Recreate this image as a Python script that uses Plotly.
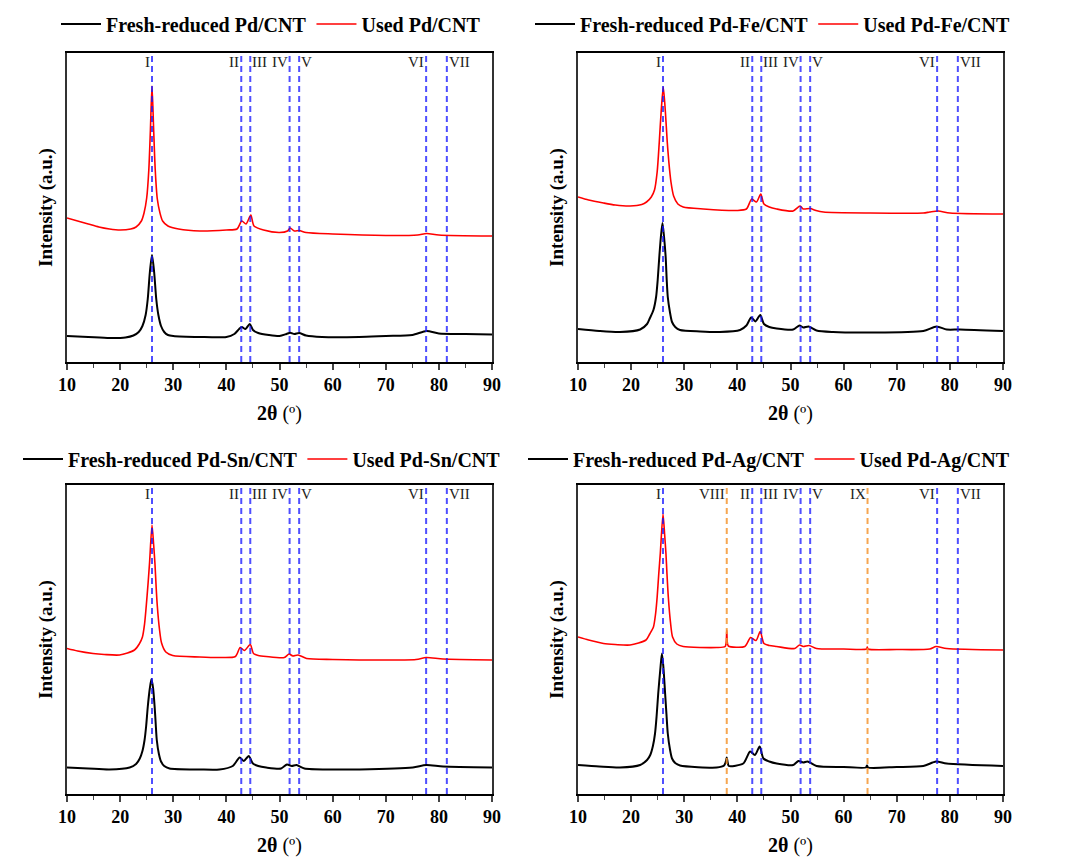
import plotly.graph_objects as go

# ---- data (2theta in degrees, intensity in a.u.) ----
pd_fresh_x = [10, 14, 18, 21, 22.5, 23.5, 24.2, 24.8, 25.2, 25.6, 26.0, 26.4, 26.8, 27.2, 27.7, 28.3, 29, 30,
              35, 40, 41.5, 42.4, 42.9, 43.6, 44.4, 45.0, 46, 48, 50, 51.3, 52, 52.8, 53.7, 55, 58, 65, 70,
              75, 77.7, 80, 85, 90]
pd_fresh_y = [26, 25, 24, 24.5, 26.5, 30, 36, 47, 63, 90, 107, 90, 63, 47, 36, 30, 27, 26,
              25, 25, 28, 33, 35, 33, 38, 32, 29, 27, 26, 28, 29.3, 28, 29, 26.5, 25, 25, 26,
              27, 31, 28.5, 28, 27.5]
pd_used_x = [10, 12, 14, 16, 18, 20, 22, 23, 24, 24.5, 25.0, 25.4, 25.7, 26.0, 26.3, 26.6, 27.0, 27.5, 28,
             29, 31, 35, 40, 42, 42.9, 43.7, 44.6, 45.2, 47, 50, 51.5, 52, 52.8, 53.7, 55, 60, 70, 76,
             77.7, 80, 90]
pd_used_y = [144, 141, 138, 135, 133, 132, 133, 135, 141, 149, 164, 192, 232, 276, 234, 193, 163, 149, 141,
             136, 133, 131, 132, 133, 141, 138, 147, 136, 132, 129.5, 131, 134, 131, 131.5, 129.5, 128, 126.5, 127,
             128.5, 127, 126]

pdfe_fresh_x = [10, 14, 17.9, 21.7, 23, 23.5, 24.2, 24.7, 25.0, 25.3, 25.6, 25.9, 26.2, 26.5, 26.7, 26.9,
                27.3, 27.7, 28.3, 29.2, 33, 36.7, 40.5, 41.7, 42.6, 43.4, 44.3, 45.0, 46, 47.4, 50.5, 51.7,
                52.4, 53.4, 54.9, 58, 65, 75, 77.5, 79.4, 81.9, 90]
pdfe_fresh_y = [33, 31, 30, 32.5, 38, 43.5, 52, 65, 82, 105, 125, 139, 125, 105, 82, 65,
                50, 40, 35, 32, 30.5, 30, 32, 36.5, 44.5, 40.5, 47, 38, 35, 33.5, 32.5, 36.5,
                34.5, 35.5, 31.5, 30, 29.5, 31, 35.5, 32.5, 32.5, 31]
pdfe_used_x = [10, 12, 14.8, 17, 19.8, 22, 22.9, 23.8, 24.4, 24.9, 25.3, 25.65, 26.05, 26.45, 26.8, 27.1, 27.5,
               28.0, 28.8, 29.8, 33.6, 39.9, 41.7, 42.7, 43.6, 44.4, 45.0, 46, 47.4, 50.5, 51.8, 52.4, 53.7,
               54.8, 56.2, 65, 75, 76.2, 77.8, 80, 90]
pdfe_used_y = [165, 162, 159, 157, 156, 157.5, 160, 165, 172, 190, 220, 250, 275, 250, 220, 200, 180,
               166, 158, 155, 153, 151.5, 153, 163, 160, 168, 158, 155, 153, 151, 156, 153, 153.5,
               151.5, 150, 149, 149, 150, 151, 149, 148]

pdsn_fresh_x = [10, 14, 18, 21.8, 23, 23.7, 24.2, 24.6, 24.9, 25.2, 25.6, 25.9, 26.2, 26.5, 26.7, 26.9, 27.3,
                27.7, 28.3, 29.3, 35, 38.7, 41.2, 42.5, 43.3, 44.2, 45.0, 46, 47.5, 50.3, 51.4, 52.3, 53.2,
                54.7, 60, 65.1, 75.1, 77.6, 80.8, 90]
pdsn_fresh_y = [26.5, 25.5, 24.5, 26.5, 30, 35.5, 43, 54, 68, 87, 106, 115, 106, 87, 70, 54, 40,
                32.5, 28, 25.5, 24.5, 24.5, 28, 36.5, 33, 38, 30.5, 28, 26.5, 25.5, 29.5, 28, 29,
                25.5, 24.5, 24.5, 26.5, 29, 27.5, 26.5]
pdsn_used_x = [10, 12, 14.9, 17, 19.9, 22.7, 23.6, 24.2, 24.6, 24.9, 25.25, 25.55, 26.0, 26.3, 26.55, 26.8, 27.0,
               27.4, 27.8, 28.6, 29.9, 35, 38.7, 41.7, 42.6, 43.4, 44.5, 45.1, 46, 47.5, 50.9, 51.8, 52.5,
               53.5, 55.1, 60, 65, 75.7, 77.6, 80.8, 90]
pdsn_used_y = [145.5, 143, 140.5, 139.5, 139, 144, 150, 157, 170, 187, 210, 232, 269, 250, 231, 205, 188,
               165, 151, 142, 138.5, 137, 136.5, 137.5, 146.5, 143.5, 149.5, 140.5, 138.5, 137.5, 136.5, 140, 138,
               139, 135.5, 134.5, 134, 134.5, 136.5, 135, 134]

pdag_fresh_x = [10, 14, 17.9, 21.7, 23, 23.6, 24.1, 24.5, 24.8, 25.1, 25.5, 25.8, 26.1, 26.4, 26.65, 26.9, 27.3,
                27.7, 28.3, 29.2, 36.1, 37.5, 37.9, 38.0, 38.2, 38.4, 41.1, 42.4, 43.3, 44.2, 44.9, 46, 47.4,
                50.5, 51.5, 52.4, 53.2, 54.9, 60, 64.2, 64.4, 64.6, 70, 75, 77.4, 79.4, 90]
pdag_fresh_y = [29, 27.5, 26.5, 29, 34, 39, 48, 60.5, 78, 100.5, 125, 140.5, 125, 100.5, 80, 60.5, 45,
                35.5, 31, 28.5, 26.5, 28.5, 34, 36.5, 31, 28, 30.5, 42.5, 39, 47.5, 35.5, 32.5, 30.5,
                29, 33, 31.5, 32.5, 28, 27, 26.5, 28.5, 26.5, 27, 28, 32.5, 30.5, 28]
pdag_used_x = [10, 12, 14.8, 17, 19.8, 22.8, 23.5, 24.2, 24.6, 24.9, 25.2, 25.5, 26.0, 26.3, 26.55, 26.75, 27.0,
               27.4, 27.8, 28.6, 29.8, 36.1, 37.7, 37.9, 38.0, 38.1, 38.3, 41.4, 42.5, 43.5, 44.3, 45.0, 46,
               47.4, 50.8, 51.7, 52.4, 53.5, 54.9, 60, 64.3, 64.45, 64.6, 70, 76.2, 77.4, 79.4, 90]
pdag_used_y = [157, 154, 150.5, 149.5, 149, 154, 160, 167, 180, 197, 220, 241, 280, 260, 241, 220, 197,
               172, 157, 150, 147.5, 146.5, 147.5, 152, 164, 152, 148, 147.5, 156.5, 153.5, 162.5, 150.5, 148.5,
               147.5, 145.5, 149, 147.5, 148.5, 145.5, 145, 145, 147, 145, 144.5, 145, 147.5, 145.5, 144]

# reference reflections
peak_pos = [26.0, 42.8, 44.5, 51.9, 53.7, 77.6, 81.5]
peak_lab = ["I", "II", "III", "IV", "V", "VI", "VII"]
peak_side = ["left", "left", "right", "left", "right", "left", "right"]
ag_pos = [38.0, 64.5]
ag_lab = ["VIII", "IX"]

samples = ["Pd/CNT", "Pd-Fe/CNT", "Pd-Sn/CNT", "Pd-Ag/CNT"]
fresh = [(pd_fresh_x, pd_fresh_y), (pdfe_fresh_x, pdfe_fresh_y), (pdsn_fresh_x, pdsn_fresh_y), (pdag_fresh_x, pdag_fresh_y)]
used = [(pd_used_x, pd_used_y), (pdfe_used_x, pdfe_used_y), (pdsn_used_x, pdsn_used_y), (pdag_used_x, pdag_used_y)]

W, H = 1067, 861
# plot boxes in pixels: (left, right, top, bottom)
boxes = [(67, 492, 53, 362), (578, 1003, 53, 362), (67, 492, 485, 794), (578, 1003, 485, 794)]
legend_pos = [(56, 24), (530, 24), (18, 459), (523, 459)]

FONT = "Liberation Serif"
BLUE = "rgba(20,20,255,0.75)"
ORANGE = "rgba(245,150,50,0.85)"

fig = go.Figure()
layout = {}
for i in range(4):
    n = "" if i == 0 else str(i + 1)
    leg = "legend" + n
    xa, ya = "x" + n, "y" + n
    l, r, t, b = boxes[i]

    fig.add_trace(go.Scatter(x=fresh[i][0], y=fresh[i][1], mode="lines", name="Fresh-reduced " + samples[i],
                             line=dict(color="black", width=2, shape="spline", smoothing=0.7),
                             xaxis=xa, yaxis=ya, legend=leg))
    fig.add_trace(go.Scatter(x=used[i][0], y=used[i][1], mode="lines", name="Used " + samples[i],
                             line=dict(color="red", width=1.6, shape="spline", smoothing=0.7),
                             xaxis=xa, yaxis=ya, legend=leg))

    layout["xaxis" + n] = dict(
        domain=[l / W, r / W], anchor=ya, range=[10, 90], dtick=10, ticks="outside", ticklen=6, tickwidth=1.5,
        minor=dict(dtick=5, ticks="outside", ticklen=4, tickwidth=1.2), showgrid=False, zeroline=False,
        showline=True, linecolor="black", linewidth=1.5, mirror=True, automargin=False,
        tickfont=dict(family=FONT, size=18, color="black", weight="bold"),
        title=dict(text="<b>2θ</b> (º)", font=dict(family=FONT, size=20, color="black"), standoff=12))
    layout["yaxis" + n] = dict(
        domain=[1 - b / H, 1 - t / H], anchor=xa, range=[0, b - t], showticklabels=False, ticks="",
        showgrid=False, zeroline=False, showline=True, linecolor="#333", linewidth=1.5, mirror=True,
        automargin=False,
        title=dict(text="<b>Intensity (a.u.)</b>", font=dict(family=FONT, size=19, color="black"), standoff=8))
    lx, ly = legend_pos[i]
    layout[leg] = dict(x=lx / W, y=1 - ly / H, xanchor="left", yanchor="middle", orientation="h",
                       bgcolor="rgba(0,0,0,0)", font=dict(family=FONT, size=20, color="black", weight="bold"),
                       itemwidth=40, tracegroupgap=0)

    pos, lab, side, col = list(peak_pos), list(peak_lab), list(peak_side), [BLUE] * len(peak_pos)
    if i == 3:
        pos += ag_pos
        lab += ag_lab
        side += ["left", "left"]
        col += [ORANGE, ORANGE]
    for p, s, sd, c in zip(pos, lab, side, col):
        fig.add_shape(type="line", x0=p, x1=p, y0=0, y1=1, xref=xa, yref=ya + " domain",
                      line=dict(color=c, width=2, dash="6px,4px"), layer="above")
        fig.add_annotation(x=p, y=0.971, xref=xa, yref=ya + " domain", text=s, showarrow=False,
                           xanchor="right" if sd == "left" else "left", yanchor="middle",
                           xshift=-1 if sd == "left" else 1, borderpad=0,
                           font=dict(family=FONT, size=15, color="#222"))

fig.update_layout(**layout)
fig.update_layout(width=W, height=H, margin=dict(l=0, r=0, t=0, b=0, autoexpand=False), plot_bgcolor="white",
                  paper_bgcolor="white", font=dict(family=FONT), showlegend=True)

# drop the default 8px page margin so the figure sits flush in the window
fig.write_html("out.html", config={"displayModeBar": False},
               post_script="document.body.style.margin='0';")
